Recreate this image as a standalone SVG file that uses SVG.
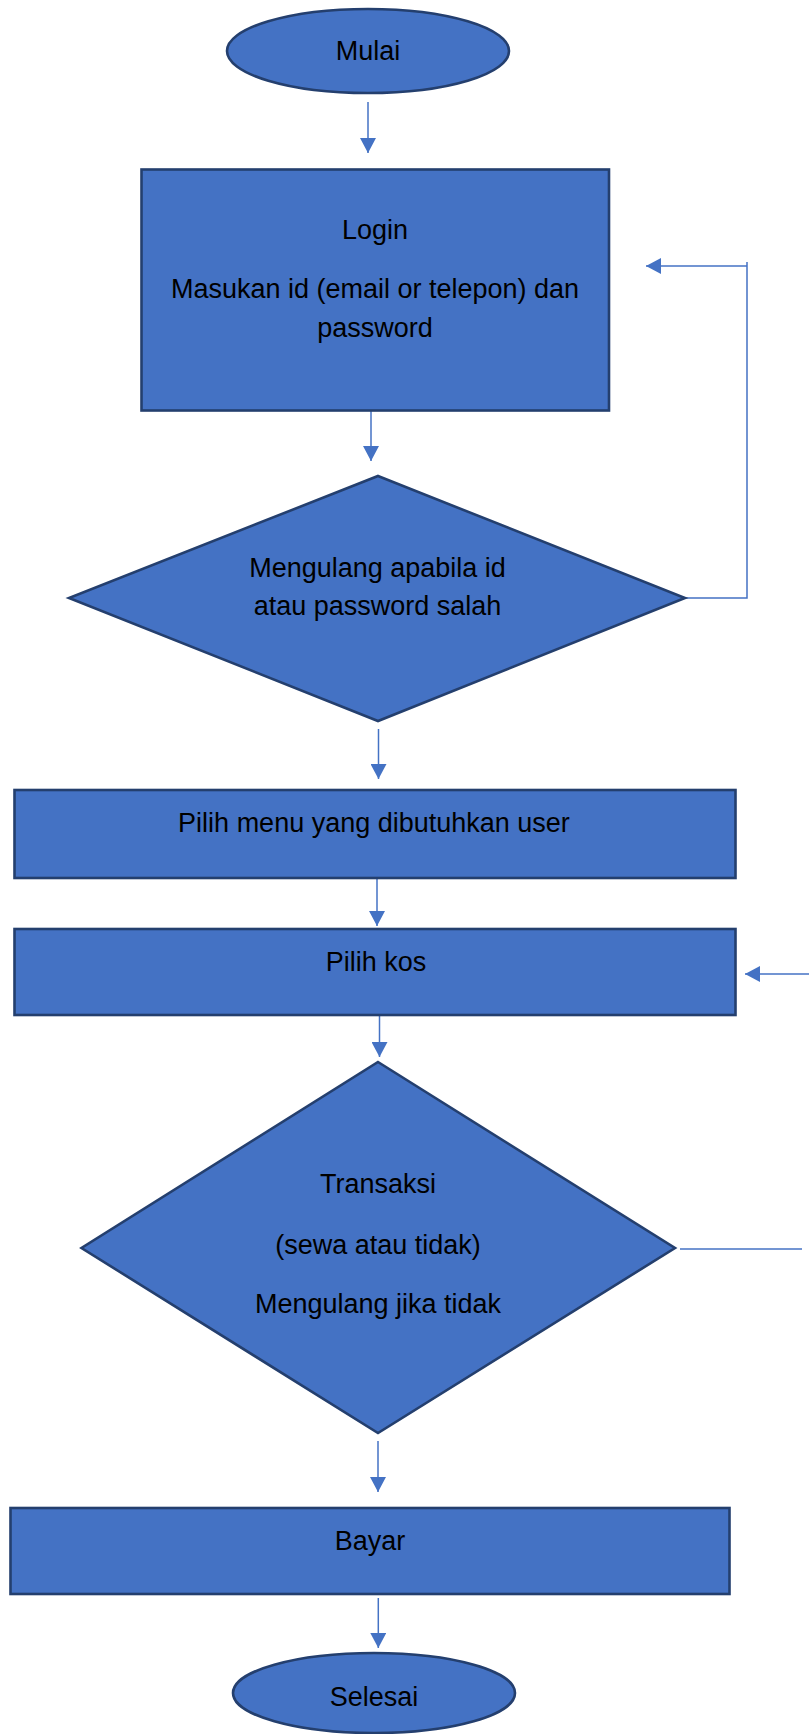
<svg xmlns="http://www.w3.org/2000/svg" width="809" height="1734" viewBox="0 0 809 1734">
  <style>
    .shape { fill: #4472C4; stroke: #243F6E; stroke-width: 2.6; }
    .label { font-family: "Liberation Sans", Arial, sans-serif; font-size: 27px; fill: #000; text-anchor: middle; }
    .conn { fill: none; stroke: #4472C4; stroke-width: 1.5; }
  </style>
  <defs>
    <marker id="arrow" markerUnits="userSpaceOnUse" markerWidth="16" markerHeight="16" viewBox="0 0 16 16" refX="15" refY="8" orient="auto">
      <path d="M0,0 L15,8 L0,16 Z" fill="#4472C4"/>
    </marker>
  </defs>
  <rect width="809" height="1734" fill="#FFFFFF"/>

  <!-- connectors -->
  <g id="connectors">
    <line class="conn" x1="368" y1="102" x2="368" y2="153" marker-end="url(#arrow)"/>
    <line class="conn" x1="371" y1="411" x2="371" y2="461" marker-end="url(#arrow)"/>
    <polyline class="conn" points="686,598 747,598 747,262"/>
    <line class="conn" x1="747" y1="266" x2="646" y2="266" marker-end="url(#arrow)"/>
    <line class="conn" x1="378.5" y1="729" x2="378.5" y2="779" marker-end="url(#arrow)"/>
    <line class="conn" x1="377" y1="879" x2="377" y2="926" marker-end="url(#arrow)"/>
    <line class="conn" x1="809" y1="974" x2="745" y2="974" marker-end="url(#arrow)"/>
    <line class="conn" x1="379.5" y1="1016" x2="379.5" y2="1057" marker-end="url(#arrow)"/>
    <line class="conn" x1="680" y1="1249" x2="802" y2="1249"/>
    <line class="conn" x1="378" y1="1441" x2="378" y2="1492" marker-end="url(#arrow)"/>
    <line class="conn" x1="378.3" y1="1598" x2="378.3" y2="1648" marker-end="url(#arrow)"/>
  </g>

  <g id="mulai">
    <ellipse class="shape" cx="368" cy="51" rx="141" ry="42"/>
    <text class="label" x="368" y="60">Mulai</text>
  </g>

  <g id="login">
    <rect class="shape" x="141.5" y="169.5" width="467.5" height="241"/>
    <text class="label" x="375" y="239">Login</text>
    <text class="label" x="375" y="298">Masukan id (email or telepon) dan</text>
    <text class="label" x="375" y="337">password</text>
  </g>

  <g id="cek-login">
    <polygon class="shape" points="378,476 685,598 378,721 69,598"/>
    <text class="label" x="377.5" y="577">Mengulang apabila id</text>
    <text class="label" x="377.5" y="615">atau password salah</text>
  </g>

  <g id="pilih-menu">
    <rect class="shape" x="14.5" y="790" width="721" height="88"/>
    <text class="label" x="374" y="832">Pilih menu yang dibutuhkan user</text>
  </g>

  <g id="pilih-kos">
    <rect class="shape" x="14.5" y="929" width="721" height="86"/>
    <text class="label" x="376" y="971">Pilih kos</text>
  </g>

  <g id="transaksi">
    <polygon class="shape" points="378,1062 675,1248 378,1433 81.5,1248"/>
    <text class="label" x="378" y="1193">Transaksi</text>
    <text class="label" x="378" y="1254">(sewa atau tidak)</text>
    <text class="label" x="378" y="1313">Mengulang jika tidak</text>
  </g>

  <g id="bayar">
    <rect class="shape" x="10.5" y="1508" width="719" height="86"/>
    <text class="label" x="370" y="1550">Bayar</text>
  </g>

  <g id="selesai">
    <ellipse class="shape" cx="374" cy="1693" rx="141" ry="40"/>
    <text class="label" x="374" y="1706">Selesai</text>
  </g>
</svg>
